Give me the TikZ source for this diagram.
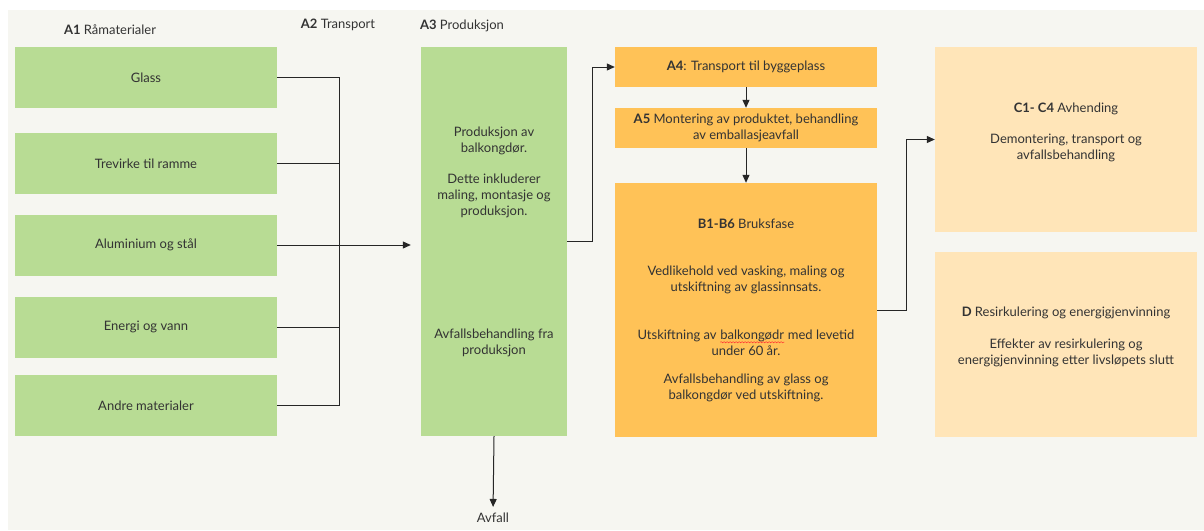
\documentclass[tikz,border=0pt]{standalone}
\usepackage{fontspec}
\setmainfont{Lato}
\usetikzlibrary{arrows.meta,decorations.pathmorphing}
\definecolor{bg}{HTML}{F6F6F1}
\definecolor{grn}{HTML}{B8DC94}
\definecolor{org}{HTML}{FFC257}
\definecolor{pch}{HTML}{FFE5B8}
\definecolor{txt}{HTML}{333333}
\begin{document}
\begin{tikzpicture}[x=1pt,y=-1pt,
  font=\fontsize{13}{16}\selectfont, text=txt,
  box/.style={rectangle, inner sep=0pt, draw=none},
  gbox/.style={box, fill=grn, minimum width=262pt, minimum height=61pt},
  obox/.style={box, fill=org, minimum width=262pt},
  pbox/.style={box, fill=pch, minimum width=262pt, minimum height=185pt},
  lbl/.style={inner sep=0pt, align=center},
  conn/.style={line width=1pt, draw=black!85},
  arr/.style={conn, -{Triangle[length=8pt,width=7pt]}}]
\useasboundingbox (0,0) rectangle (1204,530);
\fill[bg] (8,10) rectangle (1204,530);

% headers
\node[lbl] (h1) at (110,30) {\textbf{A1} Råmaterialer};
\node[lbl] (h2) at (338,25) {\textbf{A2} Transport};
\node[lbl] (h3) at (462,26) {\textbf{A3} Produksjon};

% A1 boxes
\node[gbox] (glass) at (146,77.5) {Glass};
\node[gbox] (trev) at (146,163.5) {Trevirke til ramme};
\node[gbox] (alu) at (146,245) {Aluminium og stål};
\node[gbox] (energi) at (146,327) {Energi og vann};
\node[gbox] (andre) at (146,405.5) {Andre materialer};

% A3
\node[box, fill=grn, minimum width=146pt, minimum height=389pt] (a3) at (494,241.5) {};
\node[lbl] (a3t1) at (494,141) {Produksjon av\\balkongdør.};
\node[lbl] (a3t2) at (494,196) {Dette inkluderer\\maling, montasje og\\produksjon.};
\node[lbl] (a3t3) at (494,343) {Avfallsbehandling fra\\produksjon};

% A4, A5, B
\node[obox, minimum height=40pt] (a4) at (746,67) {\textbf{A4}: Transport til byggeplass};
\node[obox, minimum height=40pt, align=center] (a5) at (746,128) {\textbf{A5} Montering av produktet, behandling\\av emballasjeavfall};
\node[obox, minimum height=254pt] (b) at (746,310) {};
\node[lbl] (bt1) at (746,224) {\textbf{B1-B6} Bruksfase};
\node[lbl] (bt2) at (746,280) {Vedlikehold ved vasking, maling og\\utskiftning av glassinnsats.};
\node[lbl] (bt3) at (746,343) {Utskiftning av \tikz[baseline=(w.base)]{\node[inner sep=0pt,anchor=base] (w) {balkongødr}; \draw[red!80, line width=0.5pt, decorate, decoration={snake, amplitude=0.6pt, segment length=3pt}] ([yshift=-2.5pt]w.base west) -- ([yshift=-2.5pt]w.base east);} med levetid\\under 60 år.};
\node[lbl] (bt4) at (746,387.5) {Avfallsbehandling av glass og\\balkongdør ved utskiftning.};

% C, D
\node[pbox] (c) at (1066,139.5) {};
\node[lbl] (ct1) at (1066,109) {\textbf{C1- C4} Avhending};
\node[lbl] (ct2) at (1066,148) {Demontering, transport og\\avfallsbehandling};
\node[pbox] (d) at (1066,344.5) {};
\node[lbl] (dt1) at (1066,313) {\textbf{D} Resirkulering og energigjenvinning};
\node[lbl] (dt2) at (1066,353) {Effekter av resirkulering og\\energigjenvinning etter livsløpets slutt};

% Avfall
\node[lbl] (avfall) at (493,518) {Avfall};

% connectors A1 -> A3
\coordinate (bus) at (339,0);
\draw[conn] (glass.east) -| (bus |- andre.east) -- (andre.east);
\draw[conn] (trev.east) -- (trev.east -| bus);
\draw[conn] (energi.east) -- (energi.east -| bus);
\draw[arr, shorten >=10pt] (alu.east) -- (alu.east -| a3.west);

% A3 -> A4
\draw[arr] (a3.east) -- ++(25,0) |- (a4.west);
\draw[arr] (a4.south) -- (a5.north);
\draw[arr] (a5.south) -- (b.north);
\draw[arr] (b.east) -- ++(29,0) |- (c.west);
\draw[arr, shorten >=6pt] (a3.south) -- (avfall.north);
\end{tikzpicture}
\end{document}
